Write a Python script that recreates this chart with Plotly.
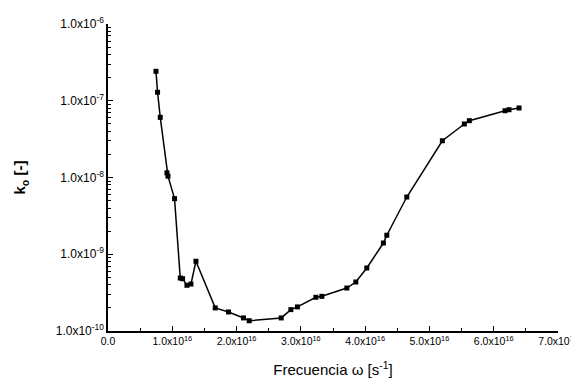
import plotly.graph_objects as go

# Data (x in s^-1, y = k_o)
freq = [7.46e15, 7.71e15, 8.13e15, 9.17e15, 9.33e15, 1.035e16, 1.124e16, 1.16e16,
        1.228e16, 1.29e16, 1.368e16, 1.668e16, 1.875e16, 2.108e16, 2.196e16,
        2.694e16, 2.845e16, 2.947e16, 3.233e16, 3.327e16, 3.715e16, 3.855e16,
        4.026e16, 4.284e16, 4.337e16, 4.648e16, 5.201e16, 5.543e16, 5.621e16,
        6.176e16, 6.238e16, 6.394e16]
ko = [2.42e-7, 1.29e-7, 6.08e-8, 1.15e-8, 1.04e-8, 5.3e-9, 4.9e-10, 4.8e-10,
      3.94e-10, 4.09e-10, 8.1e-10, 2.0e-10, 1.77e-10, 1.48e-10, 1.36e-10,
      1.48e-10, 1.9e-10, 2.06e-10, 2.75e-10, 2.83e-10, 3.63e-10, 4.35e-10,
      6.62e-10, 1.4e-9, 1.77e-9, 5.57e-9, 3.01e-8, 4.98e-8, 5.5e-8,
      7.41e-8, 7.64e-8, 8.05e-8]

x_tickvals = [0, 1e16, 2e16, 3e16, 4e16, 5e16, 6e16, 7e16]
x_ticktext = ["0.0", "1.0x10<sup>16</sup>", "2.0x10<sup>16</sup>", "3.0x10<sup>16</sup>",
              "4.0x10<sup>16</sup>", "5.0x10<sup>16</sup>", "6.0x10<sup>16</sup>",
              "7.0x10<sup>16</sup>"]
y_tickvals = [1e-10, 1e-9, 1e-8, 1e-7, 1e-6]
y_ticktext = ["1.0x10<sup>-10</sup>", "1.0x10<sup>-9</sup>", "1.0x10<sup>-8</sup>",
              "1.0x10<sup>-7</sup>", "1.0x10<sup>-6</sup>"]

fig = go.Figure()
fig.add_trace(go.Scatter(
    x=freq, y=ko, mode="lines+markers",
    line=dict(color="black", width=1.5),
    marker=dict(symbol="square", size=5, color="black"),
    showlegend=False, cliponaxis=False,
))

font_family = "Liberation Sans, Arial, sans-serif"
fig.update_layout(
    width=579, height=385,
    margin=dict(l=100, r=29, t=16, b=62, autoexpand=False),
    paper_bgcolor="white", plot_bgcolor="white",
    font=dict(family=font_family, color="black", size=12),
    xaxis=dict(
        range=[0, 7e16], tickvals=x_tickvals, ticktext=x_ticktext, automargin=False,
        ticks="inside", ticklen=5, tickwidth=1.2, tickcolor="black",
        minor=dict(ticks="inside", ticklen=3, tickcolor="black", dtick=5e15, tick0=0),
        showline=True, linecolor="black", linewidth=1.5, showgrid=False, zeroline=False,
        tickfont=dict(size=10.5),
        title=dict(text="Frecuencia ω [s<sup>-1</sup>]", font=dict(size=15), standoff=18),
    ),
    yaxis=dict(
        type="log", range=[-10, -6], tickvals=y_tickvals, ticktext=y_ticktext, automargin=False,
        ticks="inside", ticklen=5, tickwidth=1.2, tickcolor="black",
        minor=dict(ticks="inside", ticklen=3, tickcolor="black", dtick="D1"),
        showline=True, linecolor="black", linewidth=1.5, showgrid=False, zeroline=False,
        tickfont=dict(size=12),
        title=dict(text="<b>k<sub>o</sub> [-]</b>", font=dict(size=15), standoff=26),
    ),
)

fig.write_html("out.html")
